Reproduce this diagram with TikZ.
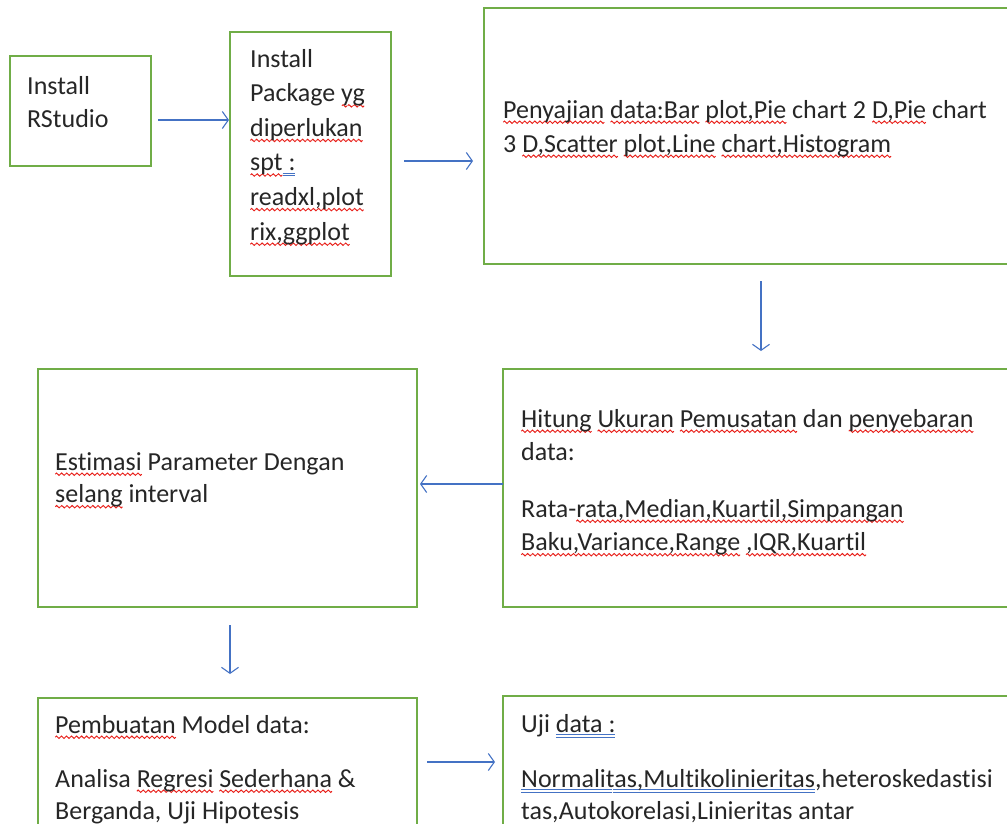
\documentclass[tikz,border=0pt]{standalone}
\usepackage{fontspec}
\setmainfont{Carlito}[Ligatures=NoCommon]
\usetikzlibrary{arrows.meta}
\definecolor{boxgreen}{HTML}{70AD47}
\definecolor{arrblue}{HTML}{4472C4}
\definecolor{wavered}{HTML}{E8201A}
\definecolor{txtgray}{HTML}{262626}
\newsavebox\wavebox
\newsavebox\dblbox
\sbox\wavebox{\tikz[baseline=0pt]{\path (0pt,0pt) -- (5pt,0pt);\draw[overlay,wavered,line width=0.95pt] (0pt,-4.2pt) sin (1.25pt,-3pt) cos (2.5pt,-4.2pt) sin (3.75pt,-5.4pt) cos (5pt,-4.2pt);}}
\sbox\dblbox{\hbox to 1pt{\rlap{\raisebox{-3pt}{\textcolor{arrblue}{\rule{1pt}{0.8pt}}}}\raisebox{-5.3pt}{\textcolor{arrblue}{\rule{1pt}{0.8pt}}}\hss}}
\newsavebox\wordbox
\newcommand\rw[1]{\leavevmode\sbox\wordbox{#1}\rlap{\hbox to \wd\wordbox{\xleaders\copy\wavebox\hfil}}\usebox\wordbox}
\newcommand\bu[1]{\leavevmode\sbox\wordbox{#1}\rlap{\hbox to \wd\wordbox{\xleaders\copy\dblbox\hfil}}\usebox\wordbox}
\begin{document}
\begin{tikzpicture}[x=1pt,y=-1pt,
  box/.style={draw=boxgreen,line width=1.6pt,rectangle,inner sep=0pt},
  tx/.style={anchor=base west,inner sep=0pt,text=txtgray,font=\fontsize{26}{34}\selectfont},
  arr/.style={draw=arrblue,line width=1.1pt,-{Straight Barb[length=6pt,width=17pt]}}]
\useasboundingbox (0,0) rectangle (1007,823);
% boxes
\node[box,minimum width=141pt,minimum height=110pt] (b1) at (80.5,111) {};
\node[box,minimum width=161pt,minimum height=244pt] (b2) at (310.5,154) {};
\node[box,minimum width=528pt,minimum height=256pt] (b3) at (748,136) {};
\node[box,minimum width=509pt,minimum height=238pt] (b4) at (757.5,488) {};
\node[box,minimum width=379pt,minimum height=238pt] (b5) at (227.5,488) {};
\node[box,minimum width=379pt,minimum height=137pt] (b6) at (227.5,766.5) {};
\node[box,minimum width=509pt,minimum height=139pt] (b7) at (757.5,765.5) {};
% texts box 1
\node[tx] (t1a) at (27,94) {Install};
\node[tx] (t1b) at (27,127.5) {RStudio};
% box 2
\node[tx] (t2a) at (250,67) {Install};
\node[tx] (t2b) at (250,101.6) {Package \rw{yg}};
\node[tx] (t2c) at (250,136.2) {\rw{diperlukan}};
\node[tx] (t2d) at (250,170.8) {\rw{spt}\bu{ :}};
\node[tx] (t2e) at (250,205.4) {\rw{readxl,plot}};
\node[tx] (t2f) at (250,240) {\rw{rix,ggplot}};
% box 3
\node[tx] (t3a) at (503,118) {\rw{Penyajian} \rw{data:Bar} \rw{plot,Pie} chart 2 \rw{D,Pie} chart};
\node[tx] (t3b) at (503,152) {3 \rw{D,Scatter} \rw{plot,Line} \rw{chart,Histogram}};
% box 4
\node[tx] (t4a) at (521,427) {\rw{Hitung} \rw{Ukuran} \rw{Pemusatan} dan \rw{penyebaran}};
\node[tx] (t4b) at (521,460.5) {data:};
\node[tx] (t4c) at (521,517) {Rata-\rw{rata,Median,Kuartil,Simpangan}};
\node[tx] (t4d) at (521,550.5) {\rw{Baku,Variance,Range} \rw{,IQR,Kuartil}};
% box 5
\node[tx] (t5a) at (55,470) {\rw{Estimasi} Parameter Dengan};
\node[tx] (t5b) at (55,502.5) {\rw{selang} interval};
% box 6
\node[tx] (t6a) at (55,733) {\rw{Pembuatan} Model data:};
\node[tx] (t6b) at (55,787) {Analisa \rw{Regresi} \rw{Sederhana} \&};
\node[tx] (t6c) at (55,819.5) {Berganda, Uji Hipotesis};
% box 7
\node[tx] (t7a) at (521,732) {Uji \bu{data :}};
\node[tx] (t7b) at (521,787) {\bu{Normalitas,Multikolinieritas},heteroskedastisi};
\node[tx] (t7c) at (521,819.5) {tas,Autokorelasi,Linieritas antar};
% arrows
\coordinate (a1s) at (158,120); \coordinate (a1e) at (229,120);
\coordinate (a2s) at (404,161); \coordinate (a2e) at (473,161);
\coordinate (a3s) at (761,281); \coordinate (a3e) at (761,351);
\coordinate (a4s) at (503,484); \coordinate (a4e) at (420,484);
\coordinate (a5s) at (230,625); \coordinate (a5e) at (230,674);
\coordinate (a6s) at (427,762); \coordinate (a6e) at (495,762);
\draw[arr] (a1s) -- (a1e);
\draw[arr] (a2s) -- (a2e);
\draw[arr] (a3s) -- (a3e);
\draw[arr] (a4s) -- (a4e);
\draw[arr] (a5s) -- (a5e);
\draw[arr] (a6s) -- (a6e);
\end{tikzpicture}
\end{document}
